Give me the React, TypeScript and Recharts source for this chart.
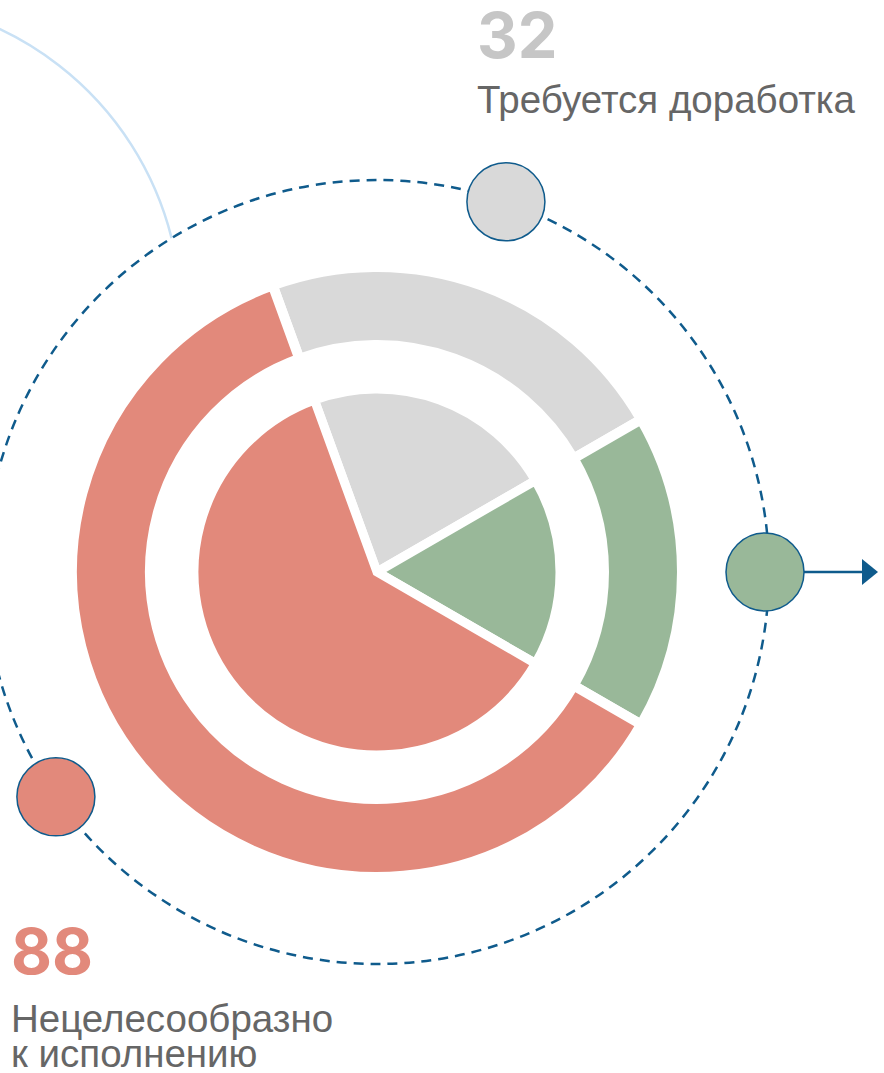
import { PieChart, Pie, Cell, Customized } from "recharts";

// categories / values
const CATEGORIES = ["Требуется доработка", "Исполнено", "Нецелесообразно к исполнению"];
const VALUES = [32, 24, 88];
const COLORS = ["#d9d9d9", "#99b899", "#e2897b"];

// где стоят маркеры на пунктирной орбите (градусы, против часовой от оси x)
const MARKER_ANGLES = [70.8, 0, 215];
const MARKER_DIST = [392, 388, 392];

const W = 884;
const H = 1073;
const CX = 377;
const CY = 572;
const ORBIT_R = 392;
const LINE = "#0f5b8c";

const data = CATEGORIES.map((name, i) => ({ name, value: VALUES[i], color: COLORS[i] }));

const polar = (angle: number, r: number) => {
  const rad = (angle * Math.PI) / 180;
  return { x: CX + r * Math.cos(rad), y: CY - r * Math.sin(rad) };
};

function Overlay() {
  const markers = MARKER_ANGLES.map((a, i) => ({ ...polar(a, MARKER_DIST[i]), color: COLORS[i] }));
  const green = markers[1];
  // светло-голубая дуга, уходящая за край
  const arcEnd = polar(121.6, ORBIT_R);
  return (
    <g>
      <path
        d={`M -136 -1 A 316 316 0 0 1 ${arcEnd.x} ${arcEnd.y}`}
        fill="none"
        stroke="#c9e1f5"
        strokeWidth={2.5}
      />
      <circle
        cx={CX}
        cy={CY}
        r={ORBIT_R}
        fill="none"
        stroke={LINE}
        strokeWidth={2.5}
        strokeDasharray="10 7"
      />
      <line x1={green.x + 39} y1={green.y} x2={green.x + 100} y2={green.y} stroke={LINE} strokeWidth={2.5} />
      <polygon
        points={`${green.x + 97},${green.y - 13} ${green.x + 113},${green.y} ${green.x + 97},${green.y + 13}`}
        fill={LINE}
      />
      {markers.map((m, i) => (
        <circle key={i} cx={m.x} cy={m.y} r={39} fill={m.color} stroke={LINE} strokeWidth={1.5} />
      ))}
      <text x={477} y={58} fontFamily="Inter" fontWeight={700} fontSize={63} fill="#c6c6c6">
        {VALUES[0]}
      </text>
      <text x={477} y={113} fontFamily="Liberation Sans" fontSize={38.5} fill="#666">
        {CATEGORIES[0]}
      </text>
      <text x={11} y={974} fontFamily="Inter" fontWeight={700} fontSize={63} fill="#e2897b">
        {VALUES[2]}
      </text>
      <text x={11} y={1032} fontFamily="Liberation Sans" fontSize={38.5} fill="#666">
        Нецелесообразно
      </text>
      <text x={11} y={1067} fontFamily="Liberation Sans" fontSize={38.5} fill="#666">
        к исполнению
      </text>
    </g>
  );
}

export default function App() {
  return (
    <div style={{ position: "absolute", left: 0, top: 0, width: W, height: H, background: "#fff" }}>
      <PieChart width={W} height={H} margin={{ top: 0, right: 0, bottom: 0, left: 0 }}>
        <Customized component={Overlay} />
        <Pie
          data={data}
          dataKey="value"
          cx={CX}
          cy={CY}
          innerRadius={227}
          outerRadius={305}
          startAngle={110}
          endAngle={-250}
          isAnimationActive={false}
        >
          {data.map((d, i) => (
            <Cell key={`o-${i}`} fill={d.color} stroke="#fff" strokeWidth={10} />
          ))}
        </Pie>
        <Pie
          data={data}
          dataKey="value"
          cx={CX}
          cy={CY}
          innerRadius={0}
          outerRadius={183}
          startAngle={110}
          endAngle={-250}
          isAnimationActive={false}
        >
          {data.map((d, i) => (
            <Cell key={`i-${i}`} fill={d.color} stroke="#fff" strokeWidth={9} />
          ))}
        </Pie>
      </PieChart>
    </div>
  );
}
